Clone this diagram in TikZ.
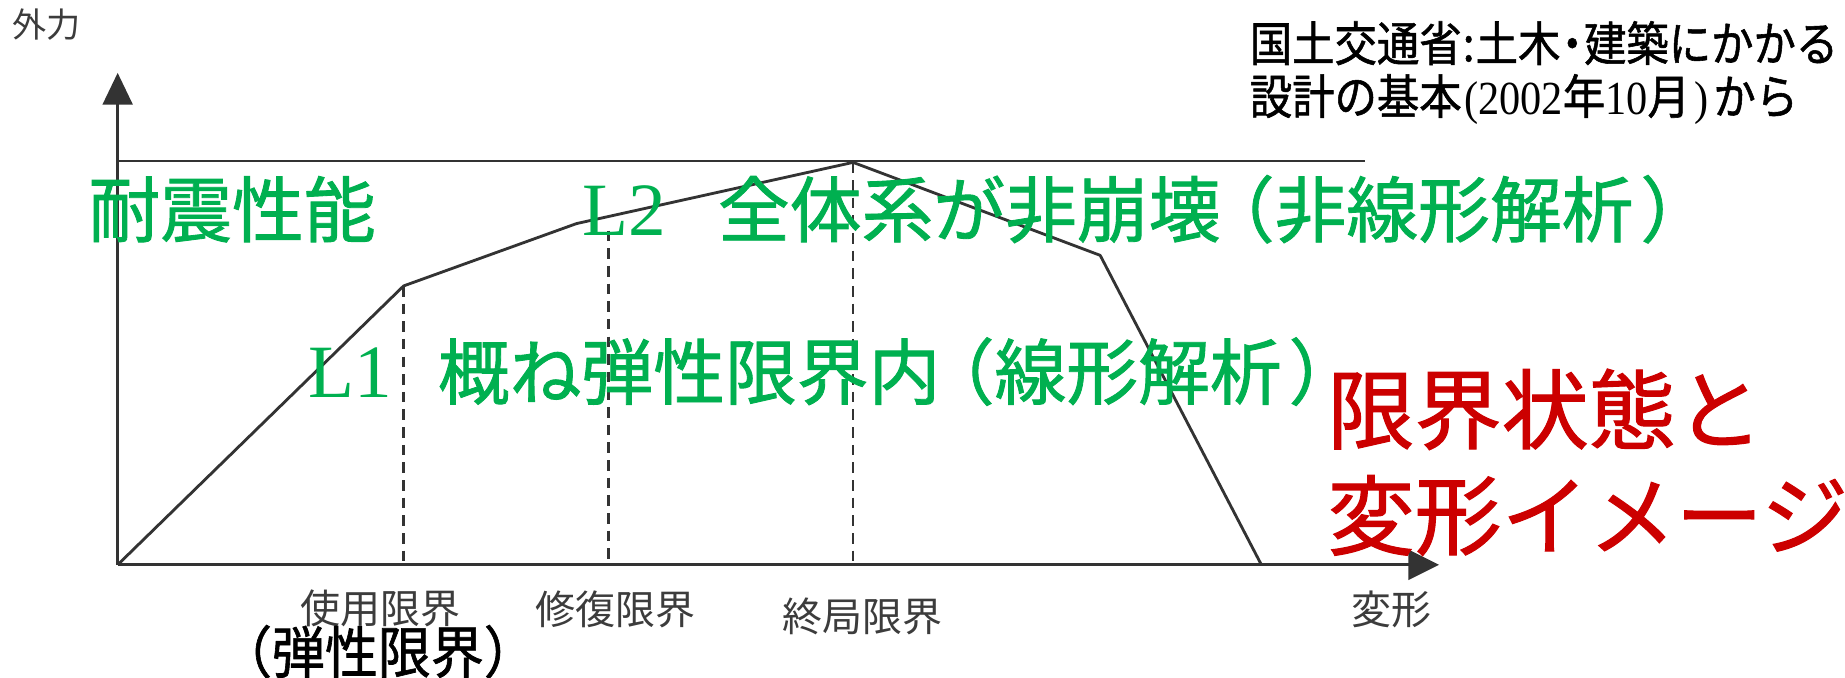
\documentclass[tikz,border=0pt]{standalone}
\usepackage{fontspec}
\newfontfamily\jp{Noto Sans CJK JP}
\newfontfamily\jpb[FakeBold=1.2]{Noto Sans CJK JP}
\newfontfamily\tm{Liberation Serif}
\definecolor{lgreen}{HTML}{00B050}
\definecolor{lred}{HTML}{CC0000}
\definecolor{ink}{HTML}{333333}
\definecolor{scan}{HTML}{3C3C3C}
\begin{document}
\begin{tikzpicture}[x=1pt,y=1pt,
  txt/.style={inner sep=0pt,anchor=base west},
  greentxt/.style={txt,text=lgreen,font=\jpb\fontsize{61}{70}\selectfont},
  greenlat/.style={txt,text=lgreen,font=\tm\fontsize{64}{70}\selectfont},
  redtxt/.style={txt,text=lred,font=\jpb\fontsize{74}{80}\selectfont},
  scantxt/.style={txt,text=scan,font=\jp\fontsize{34}{40}\selectfont},
  notetxt/.style={txt,text=black,font=\jpb\fontsize{36}{40}\selectfont},
  axisline/.style={draw=ink,line width=2.6pt},
  curve/.style={draw=ink,line width=2.4pt,line join=round},
  dashline/.style={draw=ink,line width=2pt,dash pattern=on 9pt off 6pt},
  tip/.style={fill=ink,draw=none}
]
\path[use as bounding box,fill=white] (0,0) rectangle (1568,-576);

% coordinates
\coordinate (O) at (100,-480);
\coordinate (ytop) at (100,-88);
\coordinate (xend) at (1199,-480);
\coordinate (K1) at (343,-243);
\coordinate (K2) at (490,-190);
\coordinate (P) at (725,-138);
\coordinate (K3) at (935,-217);
\coordinate (E) at (1072,-480);
\coordinate (D2top) at (517,-196);
\coordinate (D1b) at (343,-480);
\coordinate (D2b) at (517,-480);
\coordinate (D3b) at (725,-480);
\coordinate (Hl) at (100,-137);
\coordinate (Hr) at (1160,-137);

% axes
\path[axisline] (O) -- (ytop);
\path[axisline] (O) -- (xend);
\path[tip] (100,-62) -- (87,-89) -- (113,-89) -- cycle;
\path[tip] (1223,-480) -- (1197,-467) -- (1197,-493) -- cycle;
\path[draw=ink,line width=2pt] (Hl) -- (Hr);

% curve
\path[curve] (O) -- (K1) -- (K2) -- (P) -- (K3) -- (E);
\path[dashline] (K1) -- (D1b);
\path[dashline] (D2top) -- (D2b);
\path[dashline] (P) -- (D3b);

% labels
\node[txt,text=scan,font=\jp\fontsize{29}{32}\selectfont] (fy) at (10,-32) {外力};
\node[scantxt] (l1) at (255,-530) {使用限界};
\node[scantxt] (l2) at (455,-531) {修復限界};
\node[scantxt] (l3) at (665,-537) {終局限界};
\node[scantxt] (fx) at (1148,-531) {変形};
\node[txt,text=black,font=\jpb\fontsize{45}{48}\selectfont] (el) at (186,-572) {\scalebox{1}[1.06]{（弾性限界）}};

\node[notetxt] (n1) at (1062,-52) {\scalebox{1}[1.12]{国土交通省\hspace{1pt}:\hspace{1pt}土木\hspace{-8pt}・\hspace{-8pt}建築にかかる}};
\node[notetxt] (n2) at (1062,-97) {\scalebox{1}[1.12]{設計の基本\hspace{2pt}{\tm(2002}年{\tm 10}月\hspace{4pt}{\tm)}\hspace{4pt}から}};

\node[greentxt] (g0) at (75,-201) {耐震性能};
\node[greenlat] (g2a) at (495,-200) {L2};
\node[greentxt] (g2b) at (610,-201) {全体系が非崩壊\hspace{-15pt}（非線形解析\hspace{6pt}）};
\node[greenlat] (g1a) at (262,-338) {L1};
\node[greentxt] (g1b) at (372,-339) {概ね弾性限界内\hspace{-15pt}（線形解析\hspace{6pt}）};

\node[redtxt] (r1) at (1128,-376) {限界状態と};
\node[redtxt] (r2) at (1128,-466) {変形イメージ};
\end{tikzpicture}
\end{document}
